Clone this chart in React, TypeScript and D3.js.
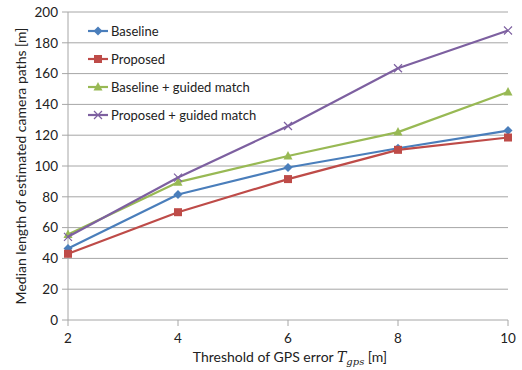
import React from 'react';
import * as d3 from 'd3';

// x values (threshold of GPS error, m)
const thresholds = [2, 4, 6, 8, 10];
// series values
const baseline = [46.5, 81.5, 99, 111.5, 123];
const proposed = [43, 70, 91.5, 110.5, 118.5];
const baselineGuided = [55.5, 89.5, 106.5, 122, 148];
const proposedGuided = [54, 92.5, 126, 163.5, 188];
const yTicks = [0, 20, 40, 60, 80, 100, 120, 140, 160, 180, 200];

const series = [
  { name: 'Baseline', values: baseline, color: '#4A7EBB', marker: 'diamond' },
  { name: 'Proposed', values: proposed, color: '#BE4B48', marker: 'square' },
  { name: 'Baseline + guided match', values: baselineGuided, color: '#98B954', marker: 'triangle' },
  { name: 'Proposed + guided match', values: proposedGuided, color: '#7D60A0', marker: 'x' },
];

const W = 522;
const H = 370;
const margin = { top: 12, right: 14, bottom: 50, left: 68 };
const font = 'Lato, "Open Sans", sans-serif';

const Marker = ({ type, x, y, color }: { type: string; x: number; y: number; color: string }) => {
  if (type === 'diamond') {
    return <path d={`M${x},${y - 4.5}L${x + 4.5},${y}L${x},${y + 4.5}L${x - 4.5},${y}Z`} fill={color} />;
  }
  if (type === 'square') {
    return <rect x={x - 4} y={y - 4} width={8} height={8} fill={color} />;
  }
  if (type === 'triangle') {
    return <path d={`M${x},${y - 5}L${x + 4.5},${y + 3.5}L${x - 4.5},${y + 3.5}Z`} fill={color} />;
  }
  return (
    <path d={`M${x - 4},${y - 4}L${x + 4},${y + 4}M${x - 4},${y + 4}L${x + 4},${y - 4}`} stroke={color} strokeWidth={1.2} fill="none" />
  );
};

export default function App() {
  const x = d3.scaleLinear().domain([2, 10]).range([margin.left, W - margin.right]);
  const y = d3.scaleLinear().domain([0, 200]).range([H - margin.bottom, margin.top]);
  const line = d3.line<number>().x((_, i) => x(thresholds[i])).y((d) => y(d));
  const bottom = H - margin.bottom;

  return (
    <svg width={W} height={H} style={{ position: 'absolute', left: 0, top: 0, background: '#fff' }}>
      {/* grid */}
      {yTicks.map((t) => (
        <g key={t}>
          {t > 0 && <line x1={x(2)} x2={x(10)} y1={y(t)} y2={y(t)} stroke="#A6A6A6" strokeWidth={1} />}
          <line x1={x(2) - 6} x2={x(2)} y1={y(t)} y2={y(t)} stroke="#A6A6A6" />
          <text x={x(2) - 10} y={y(t)} dy="0.35em" textAnchor="end" fontFamily={font} fontSize={13.5} fill="#222">
            {t}
          </text>
        </g>
      ))}
      {/* axes */}
      <line x1={x(2)} x2={x(2)} y1={y(200)} y2={bottom} stroke="#A6A6A6" />
      <line x1={x(2)} x2={x(10)} y1={bottom} y2={bottom} stroke="#A6A6A6" />
      {thresholds.map((t) => (
        <g key={t}>
          <line x1={x(t)} x2={x(t)} y1={bottom} y2={bottom + 6} stroke="#A6A6A6" />
          <text x={x(t)} y={bottom + 18} dy="0.35em" textAnchor="middle" fontFamily={font} fontSize={13.5} fill="#222">
            {t}
          </text>
        </g>
      ))}
      {/* series */}
      {series.map((s) => (
        <g key={s.name}>
          <path d={line(s.values) || ''} fill="none" stroke={s.color} strokeWidth={2.2} strokeLinejoin="round" />
          {s.values.map((v, i) => (
            <Marker key={i} type={s.marker} x={x(thresholds[i])} y={y(v)} color={s.color} />
          ))}
        </g>
      ))}
      {/* legend */}
      {series.map((s, i) => {
        const ly = 31 + i * 28;
        return (
          <g key={s.name}>
            <line x1={88} x2={108} y1={ly} y2={ly} stroke={s.color} strokeWidth={2.2} />
            <Marker type={s.marker} x={98} y={ly} color={s.color} />
            <text x={111} y={ly} dy="0.35em" fontFamily={font} fontSize={13} fill="#222">
              {s.name}
            </text>
          </g>
        );
      })}
      {/* axis titles */}
      <text
        transform={`translate(21,${(margin.top + bottom) / 2}) rotate(-90)`}
        textAnchor="middle"
        dy="0.35em"
        fontFamily={font}
        fontSize={14}
        fill="#222"
      >
        Median length of estimated camera paths [m]
      </text>
      <text x={290} y={357} textAnchor="middle" dy="0.35em" fontFamily={font} fontSize={14} fill="#222">
        Threshold of GPS error{' '}
        <tspan fontFamily='"DejaVu Serif", serif' fontStyle="italic">T</tspan>
        <tspan fontFamily='"DejaVu Serif", serif' fontStyle="italic" fontSize={10} dy="3">gps</tspan>
        <tspan dy="-3"> [m]</tspan>
      </text>
    </svg>
  );
}
